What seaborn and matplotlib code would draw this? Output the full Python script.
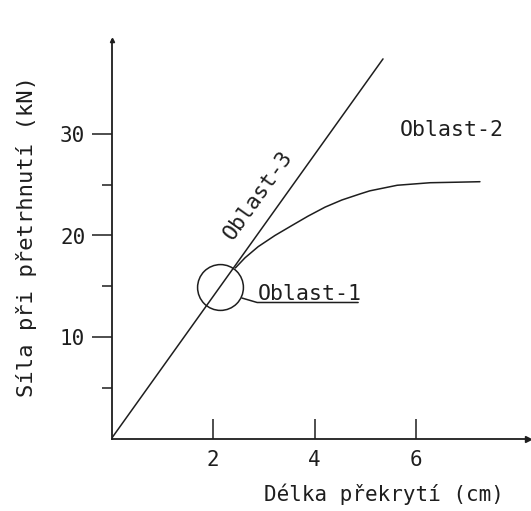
"""
Overlap length vs. breaking force: technical sketch with three regions.
"""

import matplotlib
matplotlib.use("Agg")
import matplotlib.pyplot as plt
import seaborn as sns

# Oblast-3: linear part (force grows with overlap length)
line_x = [0.0, 5.35]
line_y = [0.0, 37.4]

# curve that leaves the line and levels off (Oblast-2)
curve_x = [2.44, 2.63, 2.89, 3.22, 3.56, 3.87, 4.21, 4.54, 4.90, 5.09, 5.63, 6.28, 6.80, 7.26]
curve_y = [16.8, 17.8, 18.9, 20.0, 21.0, 21.9, 22.8, 23.5, 24.1, 24.4, 24.95, 25.2, 25.25, 25.3]

# Oblast-1: transition point
circle_x = [2.14]
circle_y = [14.9]

x_major = [2, 4, 6]
y_major = [10, 20, 30]
y_minor = [5, 15, 25]

x_label = "Délka překrytí (cm)"
y_label = "Síla při přetrhnutí (kN)"
labels = ["Oblast-1", "Oblast-2", "Oblast-3"]

INK = "#1e1e1e"


def main():
    sns.set_theme(style="white")
    # wide, evenly spaced letters like the drafting font of the original
    plt.rcParams["font.family"] = ["DejaVu Sans Mono", "DejaVu Sans"]

    fig = plt.figure(figsize=(5.31, 5.11), dpi=100)
    W, H = 531, 511
    xmax, ymax = 8.2, 39.3
    ax = fig.add_axes([111.5 / W, 72.5 / H, xmax * 50.75 / W, ymax * 10.15 / H])
    ax.set_xlim(0, xmax)
    ax.set_ylim(0, ymax)

    sns.lineplot(x=line_x, y=line_y, color=INK, linewidth=1.1, ax=ax)
    sns.lineplot(x=curve_x, y=curve_y, color=INK, linewidth=1.1, ax=ax, sort=False)
    ax.plot(circle_x, circle_y, marker="o", ms=33, mfc="none", mec=INK, mew=1.1, ls="none")

    # axes like a hand drawing: only left/bottom with small arrow tips
    sns.despine(ax=ax)
    for side in ["left", "bottom"]:
        ax.spines[side].set_color(INK)
        ax.spines[side].set_linewidth(1.3)
    ax.plot(1, 0, ">", color=INK, ms=4, transform=ax.get_yaxis_transform(), clip_on=False)
    ax.plot(0, 1, "^", color=INK, ms=3, transform=ax.get_xaxis_transform(), clip_on=False)

    ax.set_xticks(x_major)
    ax.set_yticks(y_major)
    ax.set_yticks(y_minor, minor=True)
    ax.tick_params(axis="x", which="major", direction="in", length=14.4, width=1.1,
                   color=INK, labelsize=15, labelcolor=INK, pad=8, bottom=True)
    ax.tick_params(axis="y", which="major", direction="out", length=14.4, width=1.1,
                   color=INK, labelsize=15, labelcolor=INK, pad=4.5, left=True)
    ax.tick_params(axis="y", which="minor", direction="out", length=7.2, width=1.1,
                   color=INK, left=True)

    ax.set_xlabel(x_label, fontsize=15, color=INK)
    ax.xaxis.set_label_coords(0.655, -0.112)
    ax.set_ylabel(y_label, fontsize=16, color=INK)
    ax.yaxis.set_label_coords(-0.18, 0.507)

    # region labels
    ax.text(2.89, 13.65, labels[0], fontsize=15.5, color=INK, ha="left", va="baseline")
    ax.plot([2.57, 2.87, 4.86], [13.84, 13.4, 13.4], color=INK, linewidth=1.1)
    ax.text(6.71, 30.4, labels[1], fontsize=15.5, color=INK, ha="center", va="center")
    ax.text(2.89, 24.0, labels[2], fontsize=15.5, color=INK, ha="center", va="center",
            rotation=54.5, rotation_mode="anchor")

    fig.savefig("out.png", dpi=100)


if __name__ == "__main__":
    main()
